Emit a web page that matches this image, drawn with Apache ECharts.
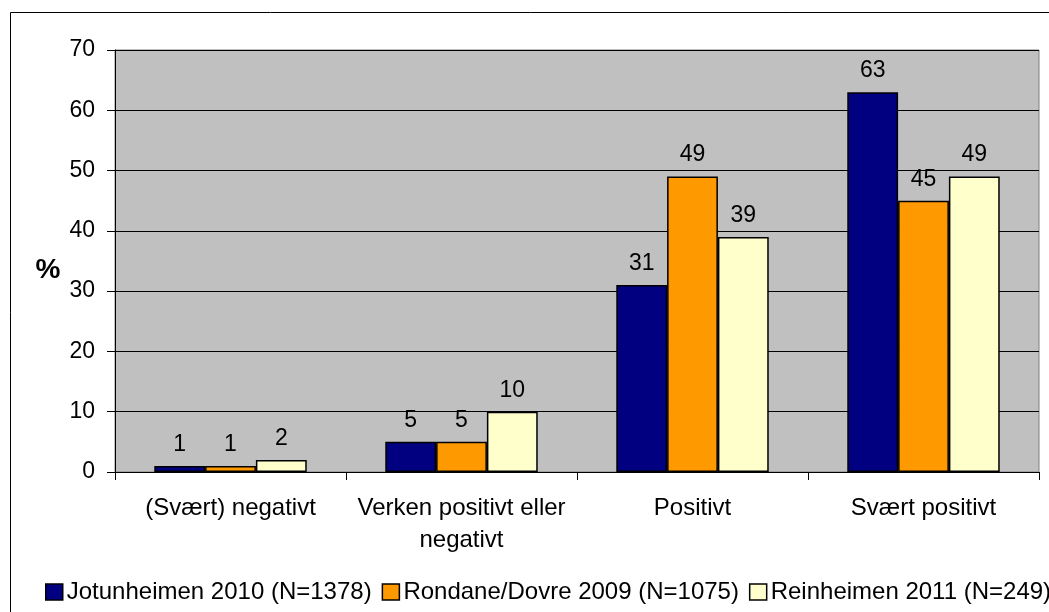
<!DOCTYPE html>
<html>
<head>
<meta charset="utf-8">
<script src="https://cdn.jsdelivr.net/npm/echarts@6/dist/echarts.min.js"></script>
<style>
  html, body { margin: 0; padding: 0; background: #fff; }
  #chart { width: 1049px; height: 612px; }
</style>
</head>
<body>
<div id="chart"></div>
<script>
// Attitude categories and shares (%) per survey area
const categories = ['(Svært) negativt', 'Verken positivt eller\nnegativt', 'Positivt', 'Svært positivt'];
const seriesNames = ['Jotunheimen 2010 (N=1378)', 'Rondane/Dovre 2009 (N=1075)', 'Reinheimen 2011 (N=249)'];
const jotunheimen = [1, 5, 31, 63];
const rondaneDovre = [1, 5, 49, 45];
const reinheimen = [2, 10, 39, 49];
const seriesColors = ['#000080', '#FF9900', '#FFFFCC'];

const font = 'Liberation Sans, Arial, sans-serif';
const chart = echarts.init(document.getElementById('chart'), null, { renderer: 'canvas' });

const makeSeries = (name, data, color) => ({
  name: name,
  type: 'bar',
  data: data,
  barGap: '0%',
  barCategoryGap: '34%',
  itemStyle: { color: color, borderColor: '#000', borderWidth: 1.5 },
  label: {
    show: true,
    position: 'top',
    distance: 10,
    color: '#000',
    fontFamily: font,
    fontSize: 23
  },
  emphasis: { disabled: true }
});

chart.setOption({
  animation: false,
  backgroundColor: '#fff',
  grid: {
    left: 115, right: 10, top: 50, bottom: 140,
    show: true, backgroundColor: '#C0C0C0', borderColor: '#808080', borderWidth: 1
  },
  legend: {
    left: 45, top: 580, width: 1400,
    padding: 0,
    itemWidth: 17, itemHeight: 16, itemGap: 10,
    icon: 'rect',
    textStyle: { fontFamily: font, fontSize: 24, color: '#000', padding: [0, 0, 0, -1] },
    itemStyle: { borderColor: '#000', borderWidth: 1.5 },
    data: seriesNames
  },
  xAxis: {
    type: 'category',
    data: categories,
    axisLine: { lineStyle: { color: '#000', width: 1 } },
    axisTick: { show: true, alignWithLabel: false, length: 8, lineStyle: { color: '#000' } },
    axisLabel: { color: '#000', fontFamily: font, fontSize: 24, margin: 20, lineHeight: 32, interval: 0 }
  },
  yAxis: {
    type: 'value',
    min: 0, max: 70, interval: 10,
    axisLine: { show: true, lineStyle: { color: '#000', width: 1 } },
    axisTick: { show: true, length: 8, lineStyle: { color: '#000' } },
    axisLabel: { color: '#000', fontFamily: font, fontSize: 23, margin: 20 },
    splitLine: { show: true, lineStyle: { color: '#000', width: 1 } }
  },
  graphic: [
    { type: 'rect', silent: true, z: 100,
      shape: { x: 10.5, y: 12.5, width: 1100, height: 700 },
      style: { fill: 'none', stroke: '#000', lineWidth: 1 } },
    { type: 'text', x: 48, y: 270,
      style: { text: '%', font: 'bold 28px ' + font, fill: '#000', align: 'center', verticalAlign: 'middle' } }
  ],
  series: [
    makeSeries(seriesNames[0], jotunheimen, seriesColors[0]),
    makeSeries(seriesNames[1], rondaneDovre, seriesColors[1]),
    makeSeries(seriesNames[2], reinheimen, seriesColors[2])
  ]
});
</script>
</body>
</html>
